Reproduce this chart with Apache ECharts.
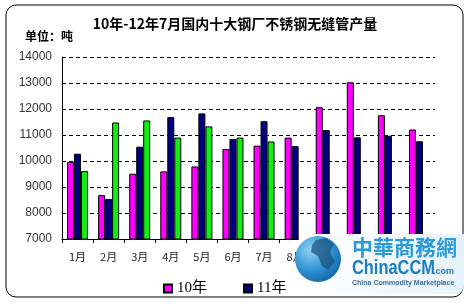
<!DOCTYPE html>
<html><head><meta charset="utf-8">
<script src="https://cdn.jsdelivr.net/npm/echarts@6/dist/echarts.min.js"></script>
<style>html,body{margin:0;padding:0;background:#fff}#c{width:470px;height:304px}</style>
</head><body><div id="c"></div>
<script>
var categories = ['1月','2月','3月','4月','5月','6月','7月','8月','9月','10月','11月','12月'];
var y2010 = [9970, 8690, 9510, 9600, 9790, 10460, 10590, 10900, 12070, 13030, 11760, 11210];
var y2011 = [10280, 8540, 10550, 11690, 11830, 10840, 11530, 10570, 11190, 10910, 10970, 10760];
var y2012 = [9610, 11480, 11560, 10900, 11330, 10900, 10750, null, null, null, null, null];
var yTicks = {min: 7000, max: 14000, step: 1000};
var titleText = '10年-12年7月国内十大钢厂不锈钢无缝管产量';
var unitText = '单位：吨';

var chart = echarts.init(document.getElementById('c'));
var barStyle = function(c){ return {color: c, borderColor: '#000', borderWidth: 1}; };
var Z = 100;
chart.setOption({
  animation: false,
  backgroundColor: '#fff',
  title: {text: titleText, left: 'center', top: 12,
    textStyle: {fontSize: 14, fontWeight: 'bold', color: '#000', fontFamily: 'Noto Sans CJK SC'}},
  grid: {left: 62, right: 35, top: 57, bottom: 65},
  legend: {data: ['10年','11年'], left: 158, top: 276, itemWidth: 8, itemHeight: 8, itemGap: 36,
    icon: 'rect', textStyle: {fontSize: 15, color: '#000', fontFamily: 'Liberation Serif, Noto Sans CJK SC'}},
  xAxis: {type: 'category', data: categories,
    axisLine: {lineStyle: {color: '#000', width: 1}},
    axisTick: {show: true, length: 4, lineStyle: {color: '#000'}},
    axisLabel: {fontSize: 11, color: '#222', margin: 12, interval: 0, fontFamily: 'Noto Sans CJK SC'}},
  yAxis: {type: 'value', min: yTicks.min, max: yTicks.max, interval: yTicks.step,
    axisLine: {show: true, lineStyle: {color: '#000', width: 1}},
    axisTick: {show: false},
    splitLine: {lineStyle: {color: '#000', type: [4, 3], width: 1}},
    axisLabel: {fontSize: 12, color: '#333', margin: 10, fontFamily: 'Liberation Sans',
      formatter: function(v){ return String(v); }}},
  series: [
    {name: '10年', type: 'bar', data: y2010, barWidth: 7, barGap: '0%', itemStyle: barStyle('#ff00ff')},
    {name: '11年', type: 'bar', data: y2011, barWidth: 7, barGap: '0%', itemStyle: barStyle('#000080')},
    {name: '12年', type: 'bar', data: y2012, barWidth: 7, barGap: '0%', itemStyle: barStyle('#11ee11')}
  ],
  graphic: [
    {type: 'rect', silent: true, z: 0, shape: {x: 6, y: 5, width: 457, height: 292, r: 10},
      style: {fill: 'none', stroke: '#000', lineWidth: 1}},
    {type: 'text', left: 25, top: 30, style: {text: unitText, fontSize: 12, fontWeight: 'bold', fill: '#000', fontFamily: 'Noto Sans CJK SC'}},
    {type: 'rect', zlevel: 1, z: Z, shape: {x: 296, y: 234, width: 168, height: 60, r: [14, 0, 8, 0]},
      style: {fill: new echarts.graphic.LinearGradient(0, 0, 1, 0, [{offset: 0, color: '#ffffff'}, {offset: 1, color: '#e6f2fa'}])}},
    {type: 'circle', zlevel: 1, z: Z + 1, shape: {cx: 318, cy: 259, r: 23},
      style: {fill: new echarts.graphic.RadialGradient(0.35, 0.3, 0.8, [{offset: 0, color: '#8fd4f5'}, {offset: 0.6, color: '#2a8fd0'}, {offset: 1, color: '#135f9e'}])}},
    {type: 'polygon', zlevel: 1, z: Z + 2, shape: {points: [[316, 240], [326, 238], [334, 244], [330, 252], [335, 262], [328, 270], [322, 266], [318, 256], [311, 252], [312, 245]]},
      style: {fill: '#1a4f7a', opacity: 0.7}},
    {type: 'text', zlevel: 1, z: Z + 2, x: 352, y: 247, style: {text: '中華商務網', fontSize: 21, fontWeight: 'bold', fill: '#2a9ad8', fontFamily: 'Noto Sans CJK TC', align: 'left', verticalAlign: 'middle'}},
    {type: 'text', zlevel: 1, z: Z + 2, x: 352, y: 268, scaleX: 0.82, style: {text: 'ChinaCCM', fontSize: 20, fontWeight: 'bold', fill: '#1a7ec2', fontFamily: 'Liberation Sans', align: 'left', verticalAlign: 'middle'}},
    {type: 'text', zlevel: 1, z: Z + 2, x: 433, y: 272, style: {text: '.com', fontSize: 9, fontWeight: 'bold', fill: '#1a7ec2', fontFamily: 'Liberation Sans', align: 'left', verticalAlign: 'middle'}},
    {type: 'text', zlevel: 1, z: Z + 2, x: 352, y: 283, style: {text: 'China Commodity Marketplace', fontSize: 7, fontWeight: 'bold', fill: '#3b6e96', fontFamily: 'Liberation Sans', align: 'left', verticalAlign: 'middle'}}
  ]
});
</script></body></html>
